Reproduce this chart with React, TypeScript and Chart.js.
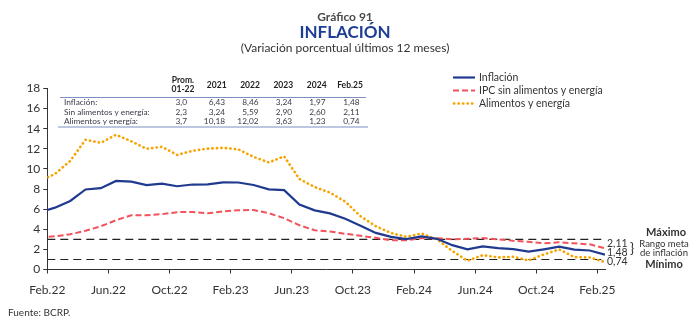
import React, { useEffect, useRef } from 'react';
import { Chart, registerables } from 'chart.js';

Chart.register(...registerables);

// Months from Ene.22 to Feb.25 (index 0 = Feb.22)
const monthIndex = Array.from({ length: 38 }, (_, i) => i - 1);

const inflacion = [
  5.68, 6.15, 6.82, 7.96, 8.09, 8.81, 8.74, 8.40, 8.53, 8.28, 8.45, 8.46,
  8.66, 8.65, 8.40, 7.97, 7.89, 6.46, 5.88, 5.58, 5.04, 4.34, 3.64, 3.24,
  3.02, 3.29, 3.05, 2.42, 2.00, 2.29, 2.13, 2.03, 1.78, 2.01, 2.27, 1.97,
  1.89, 1.48,
];
const sinAlimentosEnergia = [
  3.20, 3.30, 3.50, 3.85, 4.30, 4.90, 5.40, 5.39, 5.50, 5.70, 5.73, 5.59,
  5.77, 5.89, 5.92, 5.60, 5.10, 4.40, 3.90, 3.78, 3.55, 3.35, 3.15, 2.90,
  2.92, 3.12, 3.12, 3.00, 3.05, 3.12, 3.00, 2.85, 2.75, 2.60, 2.70, 2.60,
  2.50, 2.11,
];
const alimentosEnergia = [
  8.8, 9.5, 10.8, 12.9, 12.6, 13.4, 12.75, 12.0, 12.2, 11.4, 11.8, 12.02,
  12.1, 11.95, 11.2, 10.65, 11.25, 9.0, 8.2, 7.65, 6.75, 5.3, 4.3, 3.63,
  3.25, 3.58, 3.0, 1.85, 0.87, 1.43, 1.2, 1.27, 0.9, 1.5, 2.0, 1.23,
  1.2, 0.74,
];

const metaMax = 3;
const metaMin = 1;

const xTickLabels = ['Feb.22', 'Jun.22', 'Oct.22', 'Feb.23', 'Jun.23', 'Oct.23', 'Feb.24', 'Jun.24', 'Oct.24', 'Feb.25'];
const seriesNames = ['Inflación', 'IPC sin alimentos y energía', 'Alimentos y energía'];

const tableHeaders = ['Prom.|01-22', '2021', '2022', '2023', '2024', 'Feb.25'];
const tableRowLabels = ['Inflación:', 'Sin alimentos y energía:', 'Alimentos y energía:'];
const tableInflacion = ['3,0', '6,43', '8,46', '3,24', '1,97', '1,48'];
const tableSinAE = ['2,3', '3,24', '5,59', '2,90', '2,60', '2,11'];
const tableAE = ['3,7', '10,18', '12,02', '3,63', '1,23', '0,74'];

const titleTop = 'Gráfico 91';
const titleMain = 'INFLACIÓN';
const subtitle = '(Variación porcentual últimos 12 meses)';
const footer = 'Fuente: BCRP.';

const NAVY = '#1f3a8f';
const RED = '#f2525b';
const ORANGE = '#f7a400';
const TXT = '#333333';
const FONT = 'Lato, "Noto Sans", sans-serif';

const fmt = (v: number) => v.toFixed(2).replace('.', ',');

export default function App() {
  const ref = useRef<HTMLCanvasElement>(null);

  useEffect(() => {
    if (!ref.current) return;
    const pts = (arr: number[]) => arr.map((y, i) => ({ x: monthIndex[i], y }));
    const xMin = -0.5;
    const xMax = 36;

    const overlay = {
      id: 'overlay',
      afterDraw(chart: any) {
        const ctx = chart.ctx as CanvasRenderingContext2D;
        ctx.save();
        // Titles
        ctx.textAlign = 'center';
        ctx.textBaseline = 'middle';
        ctx.fillStyle = '#4a4a4a';
        ctx.font = `bold 12px ${FONT}`;
        ctx.fillText(titleTop, 345, 17);
        ctx.fillStyle = '#1d3d96';
        ctx.font = `bold 17px ${FONT}`;
        ctx.fillText(titleMain, 345, 33);
        ctx.fillStyle = TXT;
        ctx.font = `12px ${FONT}`;
        ctx.fillText(subtitle, 345, 48);

        // Footer
        ctx.textAlign = 'left';
        ctx.font = `10px ${FONT}`;
        ctx.fillText(footer, 8, 313);

        // Legend
        const lx0 = 453, lx1 = 475, tx = 479;
        const ly = [77.5, 90.5, 103.5];
        ctx.lineWidth = 2.2;
        ctx.strokeStyle = NAVY;
        ctx.setLineDash([]);
        ctx.beginPath(); ctx.moveTo(lx0, ly[0]); ctx.lineTo(lx1, ly[0]); ctx.stroke();
        ctx.strokeStyle = RED;
        ctx.setLineDash([6, 3]);
        ctx.beginPath(); ctx.moveTo(lx0, ly[1]); ctx.lineTo(lx1, ly[1]); ctx.stroke();
        ctx.strokeStyle = ORANGE;
        ctx.lineWidth = 2.6;
        ctx.lineCap = 'round';
        ctx.setLineDash([0.3, 4.2]);
        ctx.beginPath(); ctx.moveTo(lx0 + 1, ly[2]); ctx.lineTo(lx1, ly[2]); ctx.stroke();
        ctx.setLineDash([]);
        ctx.lineCap = 'butt';
        ctx.fillStyle = TXT;
        ctx.font = `10.5px ${FONT}`;
        ctx.textBaseline = 'middle';
        seriesNames.forEach((n, i) => ctx.fillText(n, tx, ly[i]));

        // Table
        const colRight = [187, 225, 258.5, 292, 325.5, 359.5];
        const colCenter = [183, 216.7, 250, 283.3, 316.7, 350];
        ctx.fillStyle = '#222';
        ctx.font = `bold 8.5px ${FONT}`;
        ctx.textAlign = 'center';
        tableHeaders.forEach((h, i) => {
          const parts = h.split('|');
          if (parts.length === 2) {
            ctx.fillText(parts[0], colCenter[i], 80);
            ctx.fillText(parts[1], colCenter[i], 89);
          } else {
            ctx.fillText(h, colCenter[i], 85);
          }
        });
        ctx.strokeStyle = '#7d8fc0';
        ctx.lineWidth = 1.2;
        ctx.beginPath(); ctx.moveTo(60, 97.5); ctx.lineTo(366, 97.5); ctx.stroke();
        ctx.beginPath(); ctx.moveTo(58, 127); ctx.lineTo(368, 127); ctx.stroke();
        const rows = [tableInflacion, tableSinAE, tableAE];
        const rowY = [102.5, 112, 121.5];
        ctx.font = `8.3px ${FONT}`;
        ctx.fillStyle = '#3a3a4a';
        rows.forEach((r, ri) => {
          ctx.textAlign = 'left';
          ctx.fillText(tableRowLabels[ri], 64, rowY[ri]);
          ctx.textAlign = 'right';
          r.forEach((v, ci) => ctx.fillText(v, colRight[ci], rowY[ri]));
        });

        // Right annotations
        ctx.fillStyle = TXT;
        ctx.textAlign = 'left';
        ctx.font = `10.5px ${FONT}`;
        const last = [sinAlimentosEnergia, inflacion, alimentosEnergia].map((a) => a[a.length - 1]);
        const ay = [244, 253, 262];
        last.forEach((v, i) => ctx.fillText(fmt(v), 607, ay[i]));
        ctx.textAlign = 'center';
        ctx.font = `9.5px ${FONT}`;
        ctx.fillText('Rango meta', 664, 244);
        ctx.fillText('de inflación', 664, 253);
        ctx.font = `bold 11px ${FONT}`;
        ctx.fillText('Máximo', 666, 232.5);
        ctx.fillText('Mínimo', 664, 264);
        ctx.font = `14px ${FONT}`;
        ctx.fillText('}', 632, 248);
        ctx.restore();
      },
    };

    const chart = new Chart(ref.current, {
      type: 'line',
      data: {
        datasets: [
          {
            label: seriesNames[0],
            data: pts(inflacion),
            borderColor: NAVY,
            borderWidth: 2.2,
            pointRadius: 0,
            tension: 0,
            clip: 0,
            order: 1,
          },
          {
            label: seriesNames[1],
            data: pts(sinAlimentosEnergia),
            borderColor: RED,
            borderWidth: 2,
            borderDash: [6, 3],
            pointRadius: 0,
            tension: 0,
            clip: 0,
            order: 2,
          },
          {
            label: seriesNames[2],
            data: pts(alimentosEnergia),
            borderColor: ORANGE,
            borderWidth: 2.6,
            borderDash: [0.3, 4.2],
            borderCapStyle: 'round',
            pointRadius: 0,
            tension: 0,
            clip: 0,
            order: 3,
          },
          {
            label: 'max',
            data: [{ x: xMin, y: metaMax }, { x: xMax, y: metaMax }],
            borderColor: '#222',
            borderWidth: 1.1,
            borderDash: [8, 5],
            pointRadius: 0,
            order: 4,
          },
          {
            label: 'min',
            data: [{ x: xMin, y: metaMin }, { x: xMax, y: metaMin }],
            borderColor: '#222',
            borderWidth: 1.1,
            borderDash: [8, 5],
            pointRadius: 0,
            order: 4,
          },
        ],
      },
      options: {
        animation: false,
        responsive: false,
        layout: { padding: { left: 0, right: 95, top: 88.5, bottom: 26.5 } },
        plugins: { legend: { display: false }, tooltip: { enabled: false }, title: { display: false } },
        scales: {
          x: {
            type: 'linear',
            min: xMin,
            max: xMax,
            afterBuildTicks: (s: any) => {
              s.ticks = xTickLabels.map((_, i) => ({ value: xMin + 4 * i }));
            },
            afterFit: (s: any) => { s.height = 30; },
            border: { display: true, color: '#333', width: 1 },
            grid: { display: true, drawOnChartArea: false, drawTicks: true, tickLength: 4, color: '#333' },
            ticks: {
              autoSkip: false,
              maxRotation: 0,
              padding: 9,
              color: TXT,
              font: { family: FONT, size: 12 },
              callback: (_v: any, i: number) => xTickLabels[i],
            },
          },
          y: {
            min: 0,
            max: 18,
            afterFit: (s: any) => { s.width = 47.3; },
            border: { display: true, color: '#333', width: 1 },
            grid: { display: true, drawOnChartArea: false, drawTicks: true, tickLength: 4, color: '#333' },
            ticks: { stepSize: 2, padding: 3, color: TXT, font: { family: FONT, size: 12 } },
          },
        },
      },
      plugins: [overlay],
    });
    return () => chart.destroy();
  }, []);

  return (
    <div style={{ position: 'absolute', left: 0, top: 0, width: 700, height: 326, background: '#fff' }}>
      <canvas ref={ref} width={700} height={326} style={{ width: 700, height: 326 }} />
    </div>
  );
}
